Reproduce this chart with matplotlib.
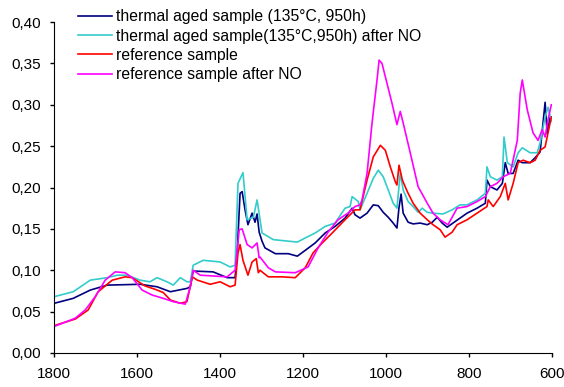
import matplotlib
matplotlib.use("Agg")
import matplotlib.pyplot as plt
from matplotlib.ticker import FuncFormatter

plt.rcParams['font.family'] = ['Liberation Sans', 'DejaVu Sans']

# thermal aged sample (135°C, 950h)
aged_x = [1800, 1754, 1713, 1672, 1593, 1552, 1520, 1480, 1472, 1465, 1417, 1383, 1364, 1359, 1352,
          1347, 1340, 1333, 1323, 1316, 1311, 1306, 1299, 1292, 1267, 1236, 1214, 1195, 1171, 1147,
          1123, 1099, 1082, 1075, 1063, 1046, 1031, 1019, 1007, 995, 983, 974, 969, 964, 959,
          947, 935, 918, 901, 889, 877, 865, 853, 839, 822, 805, 781, 761, 757, 749,
          733, 720, 713, 706, 694, 682, 672, 653, 641, 629, 617, 612, 605, 602]
aged_y = [0.060, 0.066, 0.076, 0.082, 0.083, 0.080, 0.074, 0.078, 0.080, 0.099, 0.098, 0.091, 0.091, 0.120, 0.193,
          0.195, 0.173, 0.155, 0.169, 0.158, 0.168, 0.146, 0.135, 0.127, 0.120, 0.120, 0.117, 0.124, 0.133, 0.145,
          0.153, 0.163, 0.175, 0.167, 0.163, 0.169, 0.179, 0.178, 0.170, 0.164, 0.157, 0.151, 0.176, 0.192, 0.169,
          0.158, 0.156, 0.157, 0.155, 0.158, 0.164, 0.157, 0.152, 0.157, 0.163, 0.169, 0.175, 0.181, 0.209, 0.201,
          0.197, 0.205, 0.230, 0.217, 0.217, 0.233, 0.230, 0.230, 0.236, 0.243, 0.303, 0.265, 0.285, 0.285]

# thermal aged sample after NO
aged_no_x = [1800, 1754, 1713, 1672, 1648, 1624, 1593, 1569, 1552, 1528, 1513, 1496, 1480, 1472, 1465,
             1441, 1400, 1376, 1364, 1357, 1345, 1335, 1320, 1311, 1299, 1272, 1214, 1195, 1171, 1147,
             1123, 1099, 1087, 1082, 1067, 1063, 1046, 1031, 1019, 1007, 995, 983, 974, 966, 959,
             947, 935, 923, 913, 901, 887, 863, 841, 822, 805, 781, 761, 757, 749, 733,
             720, 716, 708, 694, 682, 672, 653, 636, 629, 617, 610, 602]
aged_no_y = [0.068, 0.074, 0.088, 0.091, 0.094, 0.094, 0.088, 0.086, 0.091, 0.086, 0.082, 0.091, 0.086, 0.086, 0.106,
             0.112, 0.110, 0.104, 0.106, 0.205, 0.218, 0.161, 0.164, 0.185, 0.145, 0.137, 0.134, 0.139, 0.145, 0.153,
             0.157, 0.175, 0.177, 0.189, 0.183, 0.173, 0.193, 0.211, 0.221, 0.213, 0.197, 0.181, 0.175, 0.218, 0.197,
             0.183, 0.177, 0.170, 0.175, 0.170, 0.169, 0.168, 0.173, 0.179, 0.179, 0.185, 0.193, 0.225, 0.213, 0.209,
             0.213, 0.261, 0.230, 0.225, 0.242, 0.248, 0.242, 0.242, 0.254, 0.285, 0.297, 0.280]

# reference sample
ref_x = [1800, 1749, 1718, 1694, 1660, 1629, 1612, 1581, 1557, 1537, 1520, 1496, 1480, 1467, 1455,
         1424, 1400, 1376, 1364, 1357, 1352, 1345, 1333, 1323, 1313, 1308, 1304, 1284, 1251, 1219,
         1195, 1176, 1154, 1130, 1099, 1075, 1063, 1046, 1031, 1014, 1002, 990, 978, 974, 969,
         961, 949, 935, 918, 901, 887, 870, 858, 841, 829, 805, 781, 757, 754, 742,
         725, 713, 706, 694, 682, 670, 653, 641, 629, 617, 610, 602]
ref_y = [0.033, 0.041, 0.052, 0.074, 0.088, 0.092, 0.091, 0.081, 0.077, 0.073, 0.064, 0.060, 0.062, 0.092, 0.088,
         0.083, 0.086, 0.080, 0.082, 0.121, 0.131, 0.112, 0.094, 0.110, 0.114, 0.097, 0.100, 0.092, 0.092, 0.091,
         0.103, 0.121, 0.133, 0.145, 0.161, 0.173, 0.173, 0.209, 0.237, 0.251, 0.245, 0.225, 0.207, 0.203, 0.227,
         0.209, 0.195, 0.181, 0.169, 0.161, 0.155, 0.149, 0.140, 0.146, 0.155, 0.161, 0.169, 0.177, 0.185, 0.177,
         0.189, 0.205, 0.185, 0.205, 0.230, 0.233, 0.230, 0.233, 0.245, 0.249, 0.266, 0.285]

# reference sample after NO
ref_no_x = [1800, 1749, 1725, 1701, 1677, 1653, 1629, 1612, 1588, 1564, 1537, 1513, 1484, 1472, 1465,
            1448, 1383, 1364, 1354, 1347, 1335, 1323, 1311, 1306, 1304, 1284, 1267, 1219, 1188, 1164,
            1140, 1116, 1092, 1075, 1063, 1058, 1046, 1034, 1022, 1017, 1010, 998, 986, 974, 966,
            959, 942, 923, 901, 887, 870, 851, 829, 805, 781, 761, 749, 733, 718, 701,
            684, 677, 672, 660, 646, 634, 624, 617, 610, 602]
ref_no_y = [0.032, 0.042, 0.052, 0.068, 0.088, 0.098, 0.097, 0.091, 0.076, 0.070, 0.066, 0.062, 0.059, 0.080, 0.100,
            0.094, 0.092, 0.100, 0.149, 0.150, 0.131, 0.127, 0.133, 0.115, 0.116, 0.103, 0.098, 0.097, 0.104, 0.127,
            0.146, 0.161, 0.169, 0.177, 0.179, 0.185, 0.217, 0.278, 0.330, 0.354, 0.350, 0.326, 0.302, 0.276, 0.292,
            0.278, 0.242, 0.201, 0.181, 0.169, 0.161, 0.155, 0.175, 0.177, 0.183, 0.189, 0.201, 0.205, 0.213, 0.217,
            0.257, 0.314, 0.330, 0.294, 0.266, 0.257, 0.270, 0.261, 0.282, 0.300]

fig = plt.figure(figsize=(5.64, 3.87), dpi=100)
ax = fig.add_axes([0.096, 0.088, 0.883, 0.855])

ax.plot(aged_x, aged_y, color="#000080", lw=1.2, label="thermal aged sample (135°C, 950h)")
ax.plot(aged_no_x, aged_no_y, color="#33CCCC", lw=1.2, label="thermal aged sample(135°C,950h) after NO")
ax.plot(ref_x, ref_y, color="#FF0000", lw=1.2, label="reference sample")
ax.plot(ref_no_x, ref_no_y, color="#FF00FF", lw=1.2, label="reference sample after NO")

ax.set_xlim(1800, 600)
ax.set_ylim(0, 0.40)
ax.set_xticks(range(1800, 599, -200))
ax.set_yticks([i * 0.05 for i in range(9)])
ax.yaxis.set_major_formatter(FuncFormatter(lambda v, p: f"{v:.2f}".replace(".", ",")))

for side in ["top", "right"]:
    ax.spines[side].set_visible(False)
ax.tick_params(direction="out", length=3, width=1, labelsize=11, colors="black")
ax.tick_params(axis="x", pad=7)
ax.tick_params(axis="y", pad=6.5)

ax.legend(loc="upper left", bbox_to_anchor=(0.036, 1.057), frameon=False, fontsize=11.3,
          handlelength=2.15, handletextpad=0.25, labelspacing=0.27, borderaxespad=0)

plt.savefig("out.png", dpi=100)
plt.close()
